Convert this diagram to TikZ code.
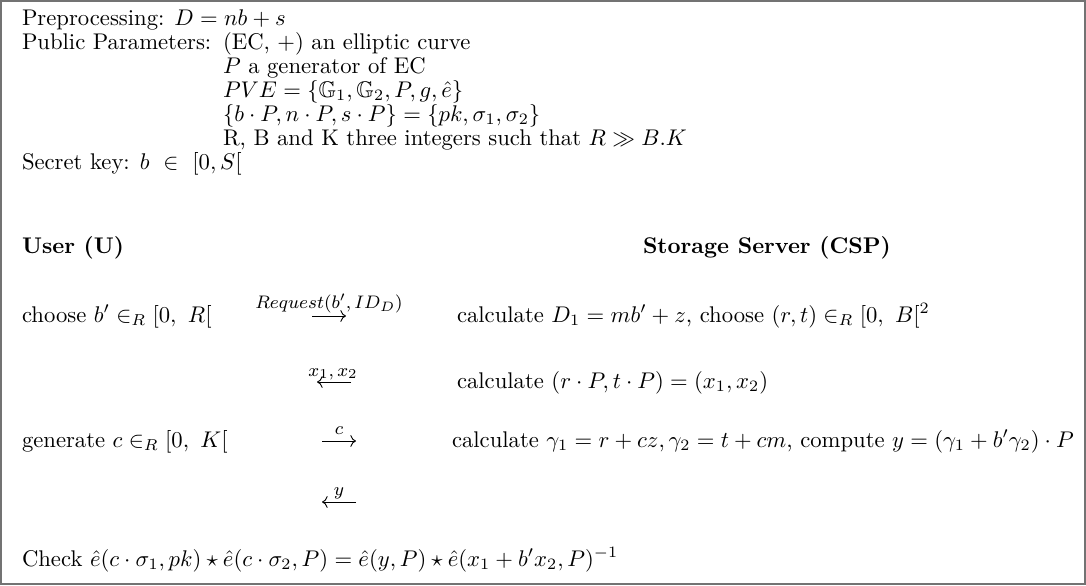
\documentclass[tikz,border=0pt]{standalone}
\usepackage{amsmath,amssymb}
\usetikzlibrary{arrows.meta}
\begin{document}
\begin{tikzpicture}[x=0.441pt,y=-0.441pt,
  txt/.style={anchor=base west,inner sep=0pt,outer sep=0pt},
  lbl/.style={anchor=base,inner sep=0pt,outer sep=0pt,font=\footnotesize},
  msg/.style={-{Computer Modern Rightarrow},line width=0.4pt},
  frame/.style={draw=black!55,line width=0.9pt}]
\useasboundingbox (0,0) rectangle (1086,585);
\draw[frame] (1,1) rectangle (1085,584);
% header
\node[txt] (pre) at (22,25) {Preprocessing: $D = nb + s$};
\node[txt] (pub) at (22,49) {Public Parameters:};
\node[txt] (ec) at (223,49) {(EC, $+$) an elliptic curve};
\node[txt] (gen) at (223,73) {$P$ a generator of EC};
\node[txt] (pve) at (223,97) {$PVE = \{\mathbb{G}_1, \mathbb{G}_2, P, g, \hat{e}\}$};
\node[txt] (keys) at (223,121) {$\{b\cdot P, n\cdot P, s\cdot P\} = \{pk, \sigma_1, \sigma_2\}$};
\node[txt] (rbk) at (223,145) {R, B and K three integers such that $R \gg B.K$};
\node[txt] (sk) at (22,169) {Secret key: $b\ \in\ [0, S[$};
% parties
\node[txt] (user) at (22,253) {\textbf{User (U)}};
\node[txt] (csp) at (643,253) {\textbf{Storage Server (CSP)}};
% protocol rows
\node[txt] (choose) at (22,322) {choose $b' \in_R [0,\ R[$};
\node[txt] (calc1) at (457,322) {calculate $D_1 = mb' + z$, choose $(r,t) \in_R [0,\ B[^2$};
\node[txt] (calc2) at (457,388) {calculate $(r\cdot P, t\cdot P) = (x_1,x_2)$};
\node[txt] (gencc) at (22,447) {generate $c \in_R [0,\ K[$};
\node[txt] (calc3) at (452,447) {calculate $\gamma_1 = r + cz, \gamma_2 = t + cm$, compute $y = (\gamma_1 + b'\gamma_2)\cdot P$};
\node[txt] (check) at (22,566) {Check $\hat{e}(c\cdot\sigma_1, pk) \star \hat{e}(c\cdot\sigma_2, P) = \hat{e}(y,P)\star\hat{e}(x_1 + b'x_2, P)^{-1}$};
% messages
\coordinate (m1a) at (312,316);
\coordinate (m1b) at (346,316);
\coordinate (m2a) at (351,382);
\coordinate (m2b) at (317,382);
\coordinate (m3a) at (322,441);
\coordinate (m3b) at (356,441);
\coordinate (m4a) at (356,502);
\coordinate (m4b) at (322,502);
\draw[msg] (m1a) -- (m1b);
\draw[msg] (m2a) -- (m2b);
\draw[msg] (m3a) -- (m3b);
\draw[msg] (m4a) -- (m4b);
\node[lbl] (l1) at (329,308) {$Request(b',ID_D)$};
\node[lbl] (l2) at (333,376) {$x_1,x_2$};
\node[lbl] (l3) at (339,434) {$c$};
\node[lbl] (l4) at (339,495) {$y$};
\end{tikzpicture}
\end{document}
